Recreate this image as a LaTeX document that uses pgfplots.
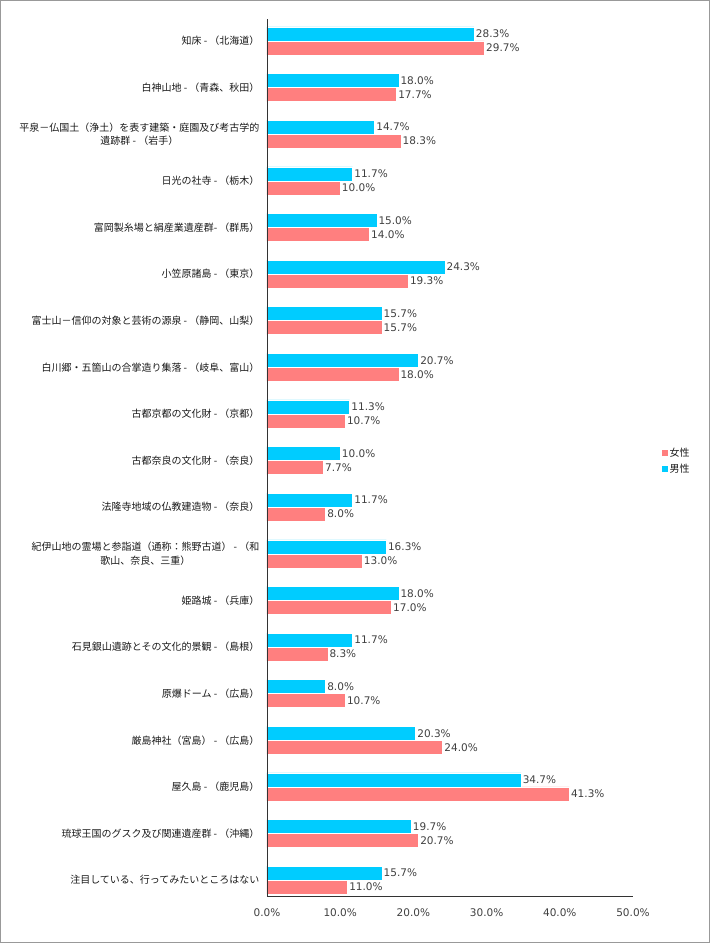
\documentclass[border=0pt]{standalone}
\usepackage{pgfplots}
\pgfplotsset{compat=1.18}
\usepackage{pgfplotstable}
\usepackage{fontspec}
\setmainfont{DejaVu Sans}
\newfontfamily\jp{Noto Sans CJK JP}
\definecolor{cyanbar}{HTML}{00CCFF}
\definecolor{salmonbar}{HTML}{FF7F7F}
\definecolor{txt}{HTML}{404040}
\pgfplotstableread{
y male female
18 28.3 29.7
17 18.0 17.7
16 14.7 18.3
15 11.7 10.0
14 15.0 14.0
13 24.3 19.3
12 15.7 15.7
11 20.7 18.0
10 11.3 10.7
9 10.0 7.7
8 11.7 8.0
7 16.3 13.0
6 18.0 17.0
5 11.7 8.3
4 8.0 10.7
3 20.3 24.0
2 34.7 41.3
1 19.7 20.7
0 15.7 11.0
}\datatable
\begin{document}
\begin{tikzpicture}
\begin{axis}[
  at={(0,0)}, anchor=south west,
  width=366pt, height=877pt, scale only axis,
  xbar, bar width=14pt,
  xmin=0, xmax=50,
  ymin=-0.34, ymax=18.47,
  axis on top,
  axis x line*=bottom, axis y line*=left,
  axis line style={-, black!80, line width=0.8pt},
  xtick={0,10,20,30,40,50},
  major tick length=0pt,
  /pgf/number format/assume math mode=true,
  xticklabel={\pgfmathprintnumber[fixed,fixed zerofill,precision=1]{\tick}\%},
  xticklabel style={font=\fontsize{10.5}{12}\selectfont, text=txt, yshift=-9pt},
  ytick={0,...,18},
  yticklabels={
    注目している、行ってみたいところはない,
    琉球王国のグスク及び関連遺産群 - （沖縄）,
    屋久島 - （鹿児島）,
    厳島神社（宮島） - （広島）,
    原爆ドーム - （広島）,
    石見銀山遺跡とその文化的景観 - （島根）,
    姫路城 - （兵庫）,
    {紀伊山地の霊場と参詣道（通称：熊野古道） - （和\\歌山、奈良、三重）},
    法隆寺地域の仏教建造物 - （奈良）,
    古都奈良の文化財 - （奈良）,
    古都京都の文化財 - （京都）,
    白川郷・五箇山の合掌造り集落 - （岐阜、富山）,
    富士山－信仰の対象と芸術の源泉 - （静岡、山梨）,
    小笠原諸島 - （東京）,
    富岡製糸場と絹産業遺産群- （群馬）,
    日光の社寺 - （栃木）,
    {平泉－仏国土（浄土）を表す建築・庭園及び考古学的\\遺跡群 - （岩手）},
    白神山地 - （青森、秋田）,
    知床 - （北海道）
  },
  yticklabel style={font=\jp\fontsize{10}{13.5}\selectfont, text=black!90, align=center, xshift=-4pt},
  nodes near coords={\pgfmathprintnumber[fixed,fixed zerofill,precision=1]{\pgfplotspointmeta}\%},
  nodes near coords style={font=\fontsize{10.5}{12}\selectfont, text=txt, inner sep=1.5pt},
  point meta=x,
  clip=false,
  legend style={draw=none, fill=none, at={(1.0765,0.496)}, anchor=west,
    inner sep=0pt, row sep=4.5pt,
    nodes={inner sep=1pt, font=\jp\fontsize{10}{12}\selectfont, text=black!90}},
  legend cell align=left,
  legend image code/.code={\fill[#1] (0pt,-3.5pt) rectangle (7pt,3.5pt);},
]
\addplot[fill=salmonbar, draw=white, line width=0.5pt, bar shift=-7pt] table[x=female, y=y] {\datatable};
\addplot[fill=cyanbar, draw=white, line width=0.5pt, bar shift=7pt] table[x=male, y=y] {\datatable};
\legend{女性, 男性}
\end{axis}
\draw[black!40, line width=1pt] (-266.5pt,-46.5pt) rectangle (442.5pt,895.5pt);
\end{tikzpicture}
\end{document}
